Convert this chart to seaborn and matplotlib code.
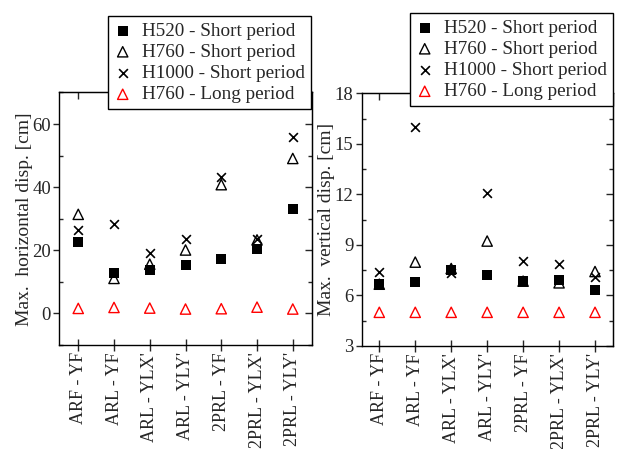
import numpy as np
import pandas as pd
import matplotlib
matplotlib.use("Agg")
import matplotlib.pyplot as plt
from matplotlib.ticker import MultipleLocator
import seaborn as sns

categories = ["ARF - YF", "ARL - YF", "ARL - YLX'", "ARL - YLY'",
              "2PRL - YF", "2PRL - YLX'", "2PRL - YLY'"]
series_names = ["H520 - Short period", "H760 - Short period",
                "H1000 - Short period", "H760 - Long period"]

# Max. horizontal displacement [cm]
horiz_h520_short = [22.5, 12.7, 13.9, 15.2, 17.2, 20.4, 33.0]
horiz_h760_short = [31.4, 11.1, 15.6, 20.1, 40.8, 23.3, 49.1]
horiz_h1000_short = [26.5, 28.4, 19.2, 23.6, 43.1, 23.7, 55.9]
horiz_h760_long = [1.6, 1.9, 1.7, 1.4, 1.5, 2.0, 1.4]

# Max. vertical displacement [cm]
vert_h520_short = [6.67, 6.81, 7.5, 7.2, 6.87, 6.91, 6.3]
vert_h760_short = [6.67, 7.98, 7.6, 9.23, 6.85, 6.75, 7.42]
vert_h1000_short = [7.37, 16.0, 7.35, 12.1, 8.06, 7.88, 7.09]
vert_h760_long = [5.0, 5.0, 5.0, 5.0, 5.0, 5.0, 5.0]

sns.set_style("ticks")
plt.rcParams["font.family"] = ["Liberation Serif", "DejaVu Serif"]

fig = plt.figure(figsize=(6.19, 4.49), dpi=100)
axL = fig.add_axes([0.0958, 0.2316, 0.4078, 0.5624])
axR = fig.add_axes([0.5843, 0.2294, 0.4060, 0.5628])

styles = [
    dict(marker="s", color="black", s=42, linewidth=0),
    dict(marker="^", facecolors="none", edgecolor="black", s=55, linewidth=1.0),
    dict(marker="x", color="black", s=40, linewidth=1.2),
    dict(marker="^", facecolors="none", edgecolor="red", s=55, linewidth=1.0),
]


def draw(ax, values, ylim, major, minor, ylabel, xlim, anchor):
    for name, vals, st in zip(series_names, values, styles):
        df = pd.DataFrame({"cat": categories, "val": vals})
        sns.scatterplot(data=df, x="cat", y="val", ax=ax, label=name, zorder=3, **st)
    ax.set_xlim(*xlim)
    ax.set_ylim(*ylim)
    ax.yaxis.set_major_locator(MultipleLocator(major))
    ax.yaxis.set_minor_locator(MultipleLocator(minor))
    ax.tick_params(axis="y", which="major", direction="out", length=4.5, width=1,
                   left=True, right=False, labelsize=13.5, pad=1.5)
    ax.tick_params(axis="y", which="minor", direction="in", length=3, width=1,
                   left=True, right=False)
    ax.tick_params(axis="x", which="major", direction="inout", length=8, width=1,
                   labelsize=13, labelrotation=90, pad=1)
    ax.set_xlabel("")
    ax.set_ylabel(ylabel, fontsize=14)
    for sp in ax.spines.values():
        sp.set_visible(True)
        sp.set_linewidth(1)
        sp.set_color("black")
    secy = ax.secondary_yaxis("right")
    secy.yaxis.set_major_locator(MultipleLocator(major))
    secy.yaxis.set_minor_locator(MultipleLocator(minor))
    secy.tick_params(axis="y", which="major", direction="in", length=5, width=1, labelright=False)
    secy.tick_params(axis="y", which="minor", direction="in", length=3, width=1)
    secx = ax.secondary_xaxis("top")
    secx.set_xticks(range(len(categories)))
    secx.tick_params(axis="x", which="major", direction="in", length=5, width=1, labeltop=False)
    handles, labels = ax.get_legend_handles_labels()
    leg = fig.legend(handles, labels, loc="upper right", bbox_to_anchor=anchor,
                     bbox_transform=fig.transFigure, fontsize=13.8, frameon=True,
                     fancybox=False, framealpha=1, edgecolor="black",
                     handlelength=0.9, handletextpad=0.55, labelspacing=0.2,
                     borderpad=0.32, borderaxespad=0)
    leg.get_frame().set_linewidth(1)
    if ax.get_legend() is not None:
        ax.get_legend().remove()
    return leg


draw(axL, [horiz_h520_short, horiz_h760_short, horiz_h1000_short, horiz_h760_long],
     (-10, 70), 20, 10, "Max.  horizontal disp. [cm]", (-0.53, 6.53),
     (311 / 619, 1 - 16 / 449))
axL.yaxis.set_label_coords(-0.106, 0.5)

draw(axR, [vert_h520_short, vert_h760_short, vert_h1000_short, vert_h760_long],
     (3, 18), 3, 1.5, "Max.  vertical disp. [cm]", (-0.49, 6.5),
     (613 / 619, 1 - 13 / 449))
axR.yaxis.set_label_coords(-0.106, 0.5)

fig.savefig("out.png", dpi=100)
